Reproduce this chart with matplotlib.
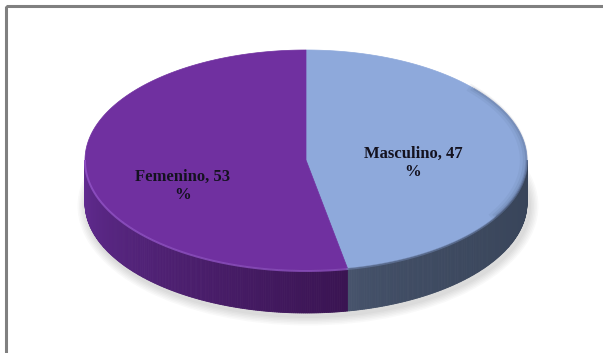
import numpy as np
import matplotlib.pyplot as plt
from matplotlib.patches import Polygon, Rectangle, Ellipse
from matplotlib.colors import to_rgb

# data
categories = ["Masculino", "Femenino"]
values = [47, 53]

# styling
top_colors = ["#8EA9DB", "#7030A0"]
side_light = ["#4B5872", "#622C92"]
side_dark = ["#384459", "#3A1452"]
side_gamma = [0.35, 1.0]
label_offsets = [(-3, 8), (-13, 21)]  # px shift from mid-angle point

CX, CY = 306, 160      # centre of top ellipse (px)
RX, RY = 221, 110      # semi axes
DEPTH = 43             # thickness of the pie
START = 90             # first slice starts at 12 o'clock, goes clockwise


def rim(theta_deg):
    t = np.radians(theta_deg)
    return CX + RX * np.cos(t), CY - RY * np.sin(t)


fig = plt.figure(figsize=(6.03, 3.53), dpi=100)
ax = fig.add_axes([0, 0, 1, 1])
ax.set_xlim(0, 603)
ax.set_ylim(353, 0)
ax.axis("off")

# soft shadow under the pie
for k in range(6):
    ax.add_patch(Ellipse((CX + 2, CY + DEPTH + 3), 2 * RX + 4 + 3 * k, 2 * RY + 4 + 3 * k,
                         facecolor="#000000", edgecolor="none", alpha=0.025, zorder=1))

total = float(sum(values))
angles = [v / total * 360 for v in values]

a0 = START
spans = []
for ang in angles:
    spans.append((a0 - ang, a0))  # (low, high) in math degrees
    a0 -= ang

# sides (only the front half, angles in [-180, 0] after wrapping)
for i, (lo, hi) in enumerate(spans):
    # shift range so it overlaps [-180, 0]
    for shift in (0, 360, -360):
        vlo = max(lo + shift, -180)
        vhi = min(hi + shift, 0)
        if vhi <= vlo:
            continue
        light = np.array(to_rgb(side_light[i]))
        dark = np.array(to_rgb(side_dark[i]))
        th = np.linspace(vlo, vhi, int((vhi - vlo) * 2) + 2)
        for j in range(len(th) - 1):
            s = ((0.5 * (th[j] + th[j + 1]) - vlo) / (vhi - vlo)) ** side_gamma[i]
            col = light + (dark - light) * s
            x0, y0 = rim(th[j])
            x1, y1 = rim(th[j + 1])
            quad = [(x0, y0), (x1, y1), (x1, y1 + DEPTH), (x0, y0 + DEPTH)]
            ax.add_patch(Polygon(quad, closed=True, facecolor=col, edgecolor=col,
                                 linewidth=0.6, zorder=2))

# top faces
for i, (lo, hi) in enumerate(spans):
    th = np.linspace(lo, hi, 400)
    xs, ys = rim(th)
    pts = [(CX, CY)] + list(zip(xs, ys))
    ax.add_patch(Polygon(pts, closed=True, facecolor=top_colors[i],
                         edgecolor=top_colors[i], linewidth=0.5, zorder=3))

# rim highlight on the front edge
th = np.linspace(-180, spans[0][0], 300)
xs, ys = rim(th)
ax.plot(xs, ys + 1, color="#9A5AD0", lw=1.4, alpha=0.7, zorder=4)
th = np.linspace(spans[0][0], 0, 200)
xs, ys = rim(th)
ax.plot(xs, ys + 1, color="#6A7FA8", lw=1.4, alpha=0.6, zorder=4)
# darker blur on the right of the light slice
th = np.linspace(-30, 40, 200)
xs, ys = rim(th)
for w, al in [(6, 0.05), (3.5, 0.08), (1.5, 0.12)]:
    ax.plot(xs - w / 2, ys, color="#2A3550", lw=w, alpha=al, zorder=4)

# labels
for i, (lo, hi) in enumerate(spans):
    mid = 0.5 * (lo + hi)
    lx, ly = CX + 0.5 * RX * np.cos(np.radians(mid)), CY - 0.5 * RY * np.sin(np.radians(mid))
    dx, dy = label_offsets[i]
    ax.text(lx + dx, ly + dy, f"{categories[i]}, {values[i]}\n%",
            ha="center", va="center", multialignment="center",
            fontsize=12, fontweight="bold", family="Liberation Serif",
            color="#14121f", linespacing=1.15, zorder=5)

# chart frame
ax.add_patch(Rectangle((5.5, 5.5), 700, 500, facecolor="none",
                       edgecolor="#808080", linewidth=2.2, zorder=6))

fig.savefig("out.png", dpi=100)
